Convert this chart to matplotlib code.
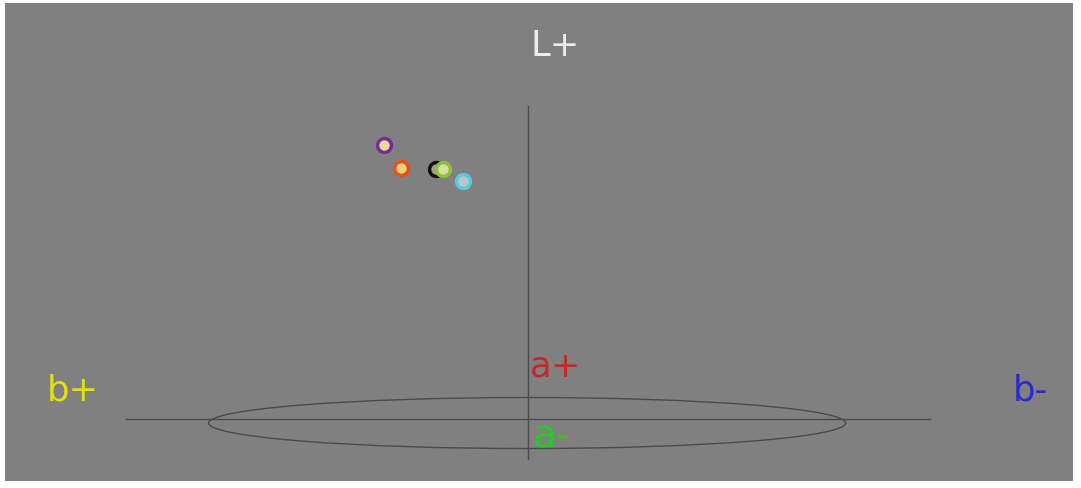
import matplotlib.pyplot as plt
from matplotlib.patches import Ellipse

# colour samples in the b / L plane (b+ is drawn to the left)
names = ['purple', 'orange', 'black', 'green', 'cyan']
b_vals = [0.358, 0.316, 0.229, 0.211, 0.162]
L_vals = [87.5, 80.2, 79.9, 79.9, 76.0]
edge_cols = ['#7a2a9a', '#e8501a', '#111111', '#8cc040', '#5cc8e0']
face_cols = ['#e8df90', '#f0d080', '#a0a080', '#d8e0a0', '#b8c8c8']

axis_labels = ['L+', 'b+', 'b-', 'a+', 'a-']

fig = plt.figure(figsize=(10.81, 4.89), dpi=100, facecolor='white')
ax = fig.add_axes([5 / 1081, 7 / 489, 1068 / 1081, 478 / 489])
ax.set_facecolor('#808080')
ax.set_xlim(1.301, -1.356)
ax.set_ylim(-19.8, 132.9)
for s in ax.spines.values():
    s.set_visible(False)
ax.set_xticks([])
ax.set_yticks([])

line_col = '#4a4a4a'
ax.plot([1, -1], [0, 0], color=line_col, lw=1)
ax.plot([0, 0], [-12.8, 100], color=line_col, lw=1)
ax.add_patch(Ellipse((0.002, -1.28), 1.585, 16.3, fill=False, ec=line_col, lw=1))

for b, L, ec, fc in zip(b_vals, L_vals, edge_cols, face_cols):
    ax.plot(b, L, 'o', ms=10, mfc=fc, mec=ec, mew=2.5)

txt = dict(fontsize=25.5, family='DejaVu Sans', va='center', ha='left')
ax.text(-0.0075, 119.5, axis_labels[0], color='#ececec', **txt)
ax.text(1.197, 9.3, axis_labels[1], color='#e0e010', **txt)
ax.text(-1.206, 9.3, axis_labels[2], color='#2a2ad0', **txt)
ax.text(-0.005, 17.0, axis_labels[3], color='#c82828', **txt)
ax.text(-0.0124, -5.4, axis_labels[4], color='#28c828', fontsize=28,
        family='DejaVu Sans', va='center', ha='left')

plt.savefig('out.png', dpi=100, facecolor=fig.get_facecolor())
